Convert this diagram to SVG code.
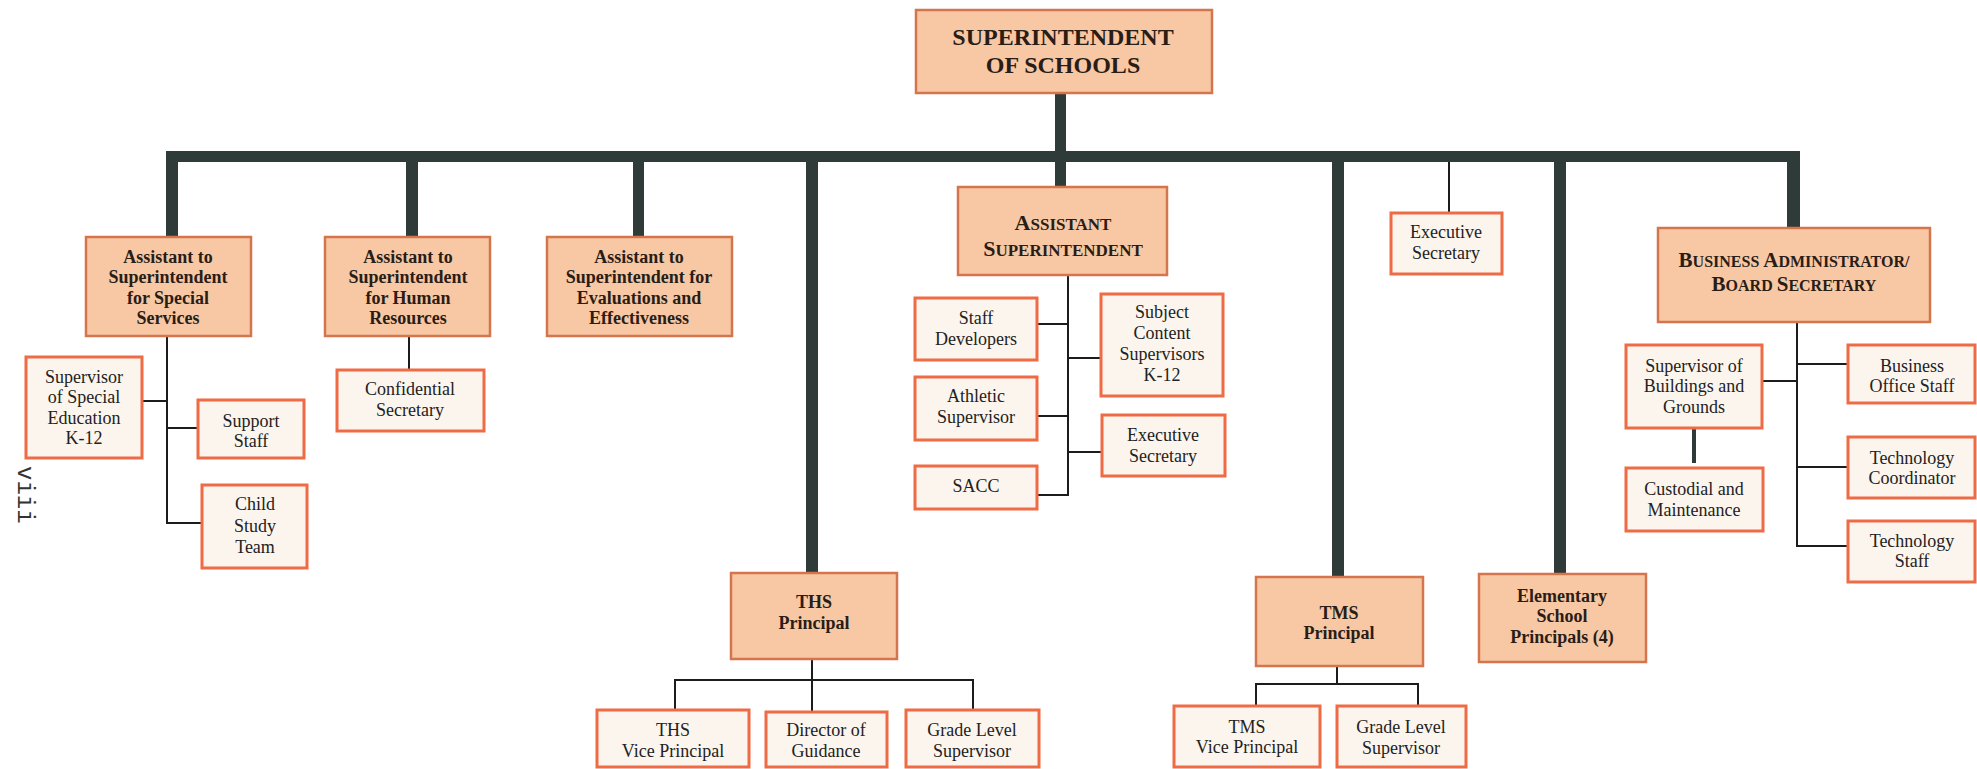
<svg xmlns="http://www.w3.org/2000/svg" width="1977" height="769" viewBox="0 0 1977 769">
<style>
.main{fill:#F8C8A5;stroke:#D4754D;stroke-width:2.5}
.sub{fill:#FCF5EE;stroke:#EE6B45;stroke-width:3}
.stem{fill:#2F3B39}
.thin{stroke:#1c1c1c;stroke-width:2;fill:none}
.mid{stroke:#2F3B39;stroke-width:4;fill:none}
.b{font-family:"Liberation Serif",serif;font-weight:bold;font-size:18px;fill:#2a1d15;text-anchor:middle}
.r{font-family:"Liberation Serif",serif;font-size:18px;fill:#222;text-anchor:middle}
.big{font-size:24px}
</style>
<rect width="1977" height="769" fill="#fff"/>
<g id="connectors">
  <rect class="stem" x="166" y="151" width="1634" height="11"/>
  <rect class="stem" x="1055" y="93" width="11" height="94"/>
  <rect class="stem" x="166" y="151" width="12" height="86"/>
  <rect class="stem" x="406" y="151" width="12" height="86"/>
  <rect class="stem" x="633" y="151" width="11" height="86"/>
  <rect class="stem" x="806" y="151" width="12" height="422"/>
  <rect class="stem" x="1332" y="151" width="12" height="426"/>
  <rect class="stem" x="1554" y="151" width="12" height="423"/>
  <rect class="stem" x="1787" y="151" width="13" height="77"/>
  <path class="thin" d="M1449 162V213"/>
  <path class="thin" d="M167 336V523H202M138 401H167M167 428H198"/>
  <path class="thin" d="M409 336V370"/>
  <path class="thin" d="M1068 275V495H1037M1037 324H1068M1037 416H1068M1068 358H1101M1068 452H1102"/>
  <path class="thin" d="M1797 322V546H1848M1762 381H1797M1797 364H1848M1797 467H1848"/>
  <path class="mid" d="M1694 428V463"/>
  <path class="thin" d="M812 659V680M675 710V680H973V710M812 680V712"/>
  <path class="thin" d="M1337 666V684M1256 706V684H1418V706"/>
</g>
<g id="superintendent">
  <rect class="main" x="916" y="10" width="296" height="83"/>
  <text class="b big" x="1063" y="45">SUPERINTENDENT</text>
  <text class="b big" x="1063" y="73">OF SCHOOLS</text>
</g>
<g id="asst-special-services">
  <rect class="main" x="86" y="237" width="165" height="99"/>
  <text class="b" x="168" y="263">Assistant to</text>
  <text class="b" x="168" y="283">Superintendent</text>
  <text class="b" x="168" y="304">for Special</text>
  <text class="b" x="168" y="324">Services</text>
</g>
<g id="sup-special-ed">
  <rect class="sub" x="26" y="357" width="116" height="101"/>
  <text class="r" x="84" y="383">Supervisor</text>
  <text class="r" x="84" y="403">of Special</text>
  <text class="r" x="84" y="424">Education</text>
  <text class="r" x="84" y="444">K-12</text>
</g>
<g id="support-staff">
  <rect class="sub" x="198" y="400" width="106" height="58"/>
  <text class="r" x="251" y="427">Support</text>
  <text class="r" x="251" y="447">Staff</text>
</g>
<g id="child-study-team">
  <rect class="sub" x="202" y="485" width="105" height="83"/>
  <text class="r" x="255" y="510">Child</text>
  <text class="r" x="255" y="532">Study</text>
  <text class="r" x="255" y="553">Team</text>
</g>
<g id="page-number">
  <text x="18" y="466" transform="rotate(90 18 466)" font-family="Liberation Mono, monospace" font-size="24" fill="#333">viii</text>
</g>
<g id="asst-human-resources">
  <rect class="main" x="325" y="237" width="165" height="99"/>
  <text class="b" x="408" y="263">Assistant to</text>
  <text class="b" x="408" y="283">Superintendent</text>
  <text class="b" x="408" y="304">for Human</text>
  <text class="b" x="408" y="324">Resources</text>
</g>
<g id="confidential-secretary">
  <rect class="sub" x="337" y="370" width="147" height="61"/>
  <text class="r" x="410" y="395">Confidential</text>
  <text class="r" x="410" y="416">Secretary</text>
</g>
<g id="asst-evaluations">
  <rect class="main" x="547" y="237" width="185" height="99"/>
  <text class="b" x="639" y="263">Assistant to</text>
  <text class="b" x="639" y="283">Superintendent for</text>
  <text class="b" x="639" y="304">Evaluations and</text>
  <text class="b" x="639" y="324">Effectiveness</text>
</g>
<g id="assistant-superintendent">
  <rect class="main" x="958" y="187" width="209" height="88"/>
  <text class="b" x="1063" y="230"><tspan font-size="22">A</tspan><tspan font-size="17">SSISTANT</tspan></text>
  <text class="b" x="1063" y="256"><tspan font-size="22">S</tspan><tspan font-size="17">UPERINTENDENT</tspan></text>
</g>
<g id="staff-developers">
  <rect class="sub" x="915" y="298" width="122" height="62"/>
  <text class="r" x="976" y="324">Staff</text>
  <text class="r" x="976" y="345">Developers</text>
</g>
<g id="athletic-supervisor">
  <rect class="sub" x="915" y="377" width="122" height="63"/>
  <text class="r" x="976" y="402">Athletic</text>
  <text class="r" x="976" y="423">Supervisor</text>
</g>
<g id="sacc">
  <rect class="sub" x="915" y="466" width="122" height="43"/>
  <text class="r" x="976" y="492">SACC</text>
</g>
<g id="subject-content">
  <rect class="sub" x="1101" y="294" width="122" height="102"/>
  <text class="r" x="1162" y="318">Subject</text>
  <text class="r" x="1162" y="339">Content</text>
  <text class="r" x="1162" y="360">Supervisors</text>
  <text class="r" x="1162" y="381">K-12</text>
</g>
<g id="as-executive-secretary">
  <rect class="sub" x="1102" y="415" width="123" height="61"/>
  <text class="r" x="1163" y="441">Executive</text>
  <text class="r" x="1163" y="462">Secretary</text>
</g>
<g id="executive-secretary">
  <rect class="sub" x="1391" y="213" width="111" height="61"/>
  <text class="r" x="1446" y="238">Executive</text>
  <text class="r" x="1446" y="259">Secretary</text>
</g>
<g id="business-administrator">
  <rect class="main" x="1658" y="228" width="272" height="94"/>
  <text class="b" x="1794" y="267"><tspan font-size="21">B</tspan><tspan font-size="16">USINESS </tspan><tspan font-size="21">A</tspan><tspan font-size="16">DMINISTRATOR/</tspan></text>
  <text class="b" x="1794" y="291"><tspan font-size="21">B</tspan><tspan font-size="16">OARD </tspan><tspan font-size="21">S</tspan><tspan font-size="16">ECRETARY</tspan></text>
</g>
<g id="sup-buildings">
  <rect class="sub" x="1626" y="345" width="136" height="83"/>
  <text class="r" x="1694" y="372">Supervisor of</text>
  <text class="r" x="1694" y="392">Buildings and</text>
  <text class="r" x="1694" y="413">Grounds</text>
</g>
<g id="custodial">
  <rect class="sub" x="1626" y="468" width="137" height="63"/>
  <text class="r" x="1694" y="495">Custodial and</text>
  <text class="r" x="1694" y="516">Maintenance</text>
</g>
<g id="business-office-staff">
  <rect class="sub" x="1848" y="345" width="127" height="58"/>
  <text class="r" x="1912" y="372">Business</text>
  <text class="r" x="1912" y="392">Office Staff</text>
</g>
<g id="technology-coordinator">
  <rect class="sub" x="1848" y="437" width="127" height="61"/>
  <text class="r" x="1912" y="464">Technology</text>
  <text class="r" x="1912" y="484">Coordinator</text>
</g>
<g id="technology-staff">
  <rect class="sub" x="1848" y="521" width="127" height="61"/>
  <text class="r" x="1912" y="547">Technology</text>
  <text class="r" x="1912" y="567">Staff</text>
</g>
<g id="ths-principal">
  <rect class="main" x="731" y="573" width="166" height="86"/>
  <text class="b" x="814" y="608">THS</text>
  <text class="b" x="814" y="629">Principal</text>
</g>
<g id="ths-vice-principal">
  <rect class="sub" x="597" y="710" width="152" height="57"/>
  <text class="r" x="673" y="736">THS</text>
  <text class="r" x="673" y="757">Vice Principal</text>
</g>
<g id="director-guidance">
  <rect class="sub" x="766" y="712" width="121" height="55"/>
  <text class="r" x="826" y="736">Director of</text>
  <text class="r" x="826" y="757">Guidance</text>
</g>
<g id="ths-grade-level">
  <rect class="sub" x="906" y="710" width="133" height="57"/>
  <text class="r" x="972" y="736">Grade Level</text>
  <text class="r" x="972" y="757">Supervisor</text>
</g>
<g id="tms-principal">
  <rect class="main" x="1256" y="577" width="167" height="89"/>
  <text class="b" x="1339" y="619">TMS</text>
  <text class="b" x="1339" y="639">Principal</text>
</g>
<g id="tms-vice-principal">
  <rect class="sub" x="1174" y="706" width="146" height="61"/>
  <text class="r" x="1247" y="733">TMS</text>
  <text class="r" x="1247" y="753">Vice Principal</text>
</g>
<g id="tms-grade-level">
  <rect class="sub" x="1337" y="706" width="129" height="61"/>
  <text class="r" x="1401" y="733">Grade Level</text>
  <text class="r" x="1401" y="754">Supervisor</text>
</g>
<g id="elementary-principals">
  <rect class="main" x="1479" y="574" width="167" height="88"/>
  <text class="b" x="1562" y="602">Elementary</text>
  <text class="b" x="1562" y="622">School</text>
  <text class="b" x="1562" y="643">Principals (4)</text>
</g>
</svg>
